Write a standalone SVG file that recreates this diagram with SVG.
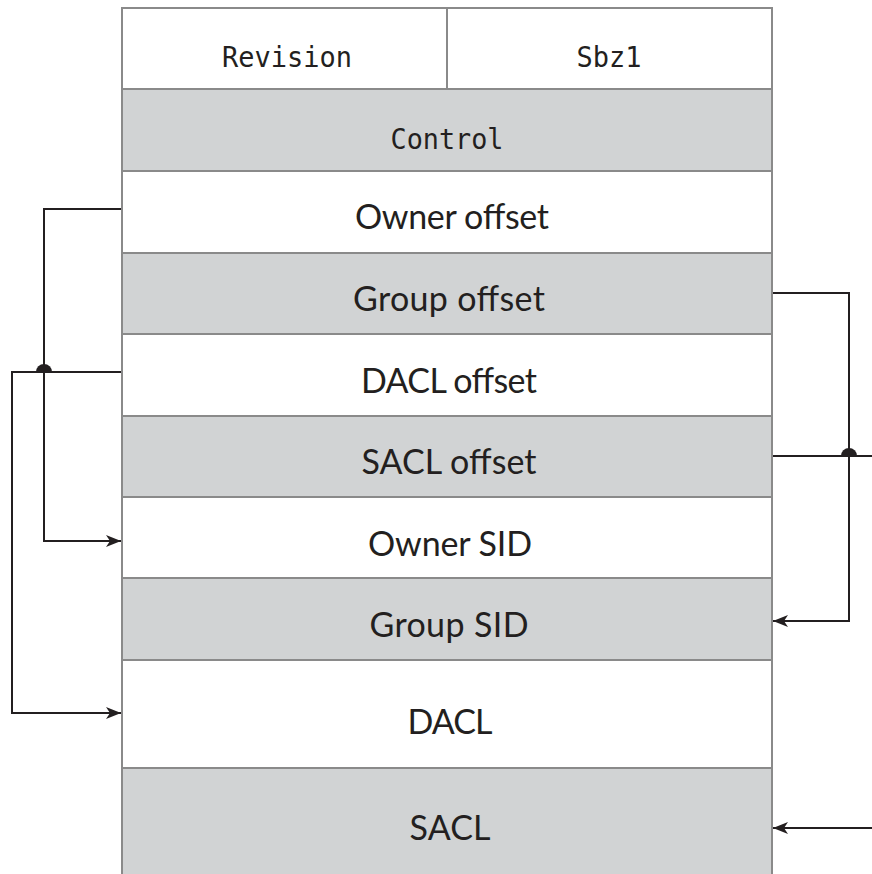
<svg xmlns="http://www.w3.org/2000/svg" width="872" height="874" viewBox="0 0 872 874">
  <style>
    .w { fill: #ffffff; stroke: #8a8a8a; stroke-width: 2; }
    .g { fill: #d1d3d4; stroke: #8a8a8a; stroke-width: 2; }
    .mono { font-family: "DejaVu Sans Mono", "Liberation Mono", monospace; font-size: 29px; fill: #231f20; text-anchor: middle; }
    .sans { font-family: Lato, "Open Sans", "Liberation Sans", sans-serif; font-size: 34px; fill: #231f20; text-anchor: middle; }
    .conn { fill: none; stroke: #231f20; stroke-width: 2; }
    .dot { fill: #231f20; }
  </style>
  <defs>
    <marker id="arrow" markerUnits="userSpaceOnUse" markerWidth="16" markerHeight="14" viewBox="0 0 16 12" refX="15" refY="6" orient="auto">
      <path d="M0,0 L15,6 L0,12 L4,6 z" fill="#231f20"/>
    </marker>
  </defs>
  <rect width="872" height="874" fill="#ffffff"/>

  <g id="revision">
    <rect class="w" x="122" y="8" width="325" height="81"/>
    <text class="mono" x="287" y="67" textLength="130" lengthAdjust="spacingAndGlyphs">Revision</text>
  </g>
  <g id="sbz1">
    <rect class="w" x="447" y="8" width="325" height="81"/>
    <text class="mono" x="609" y="67" textLength="65" lengthAdjust="spacingAndGlyphs">Sbz1</text>
  </g>
  <g id="control">
    <rect class="g" x="122" y="89" width="650" height="82"/>
    <text class="mono" x="447" y="149" textLength="113" lengthAdjust="spacingAndGlyphs">Control</text>
  </g>
  <g id="owner-offset">
    <rect class="w" x="122" y="171" width="650" height="82"/>
    <text class="sans" x="452" y="229" textLength="194">Owner offset</text>
  </g>
  <g id="group-offset">
    <rect class="g" x="122" y="253" width="650" height="81"/>
    <text class="sans" x="449" y="311" textLength="192">Group offset</text>
  </g>
  <g id="dacl-offset">
    <rect class="w" x="122" y="334" width="650" height="82"/>
    <text class="sans" x="449" y="393" textLength="176">DACL offset</text>
  </g>
  <g id="sacl-offset">
    <rect class="g" x="122" y="416" width="650" height="81"/>
    <text class="sans" x="449" y="474" textLength="175">SACL offset</text>
  </g>
  <g id="owner-sid">
    <rect class="w" x="122" y="497" width="650" height="81"/>
    <text class="sans" x="450" y="556" textLength="164">Owner SID</text>
  </g>
  <g id="group-sid">
    <rect class="g" x="122" y="578" width="650" height="82"/>
    <text class="sans" x="449" y="637" textLength="159">Group SID</text>
  </g>
  <g id="dacl">
    <rect class="w" x="122" y="660" width="650" height="108"/>
    <text class="sans" x="450" y="734" textLength="85">DACL</text>
  </g>
  <g id="sacl">
    <rect class="g" x="122" y="768" width="650" height="120"/>
    <text class="sans" x="450" y="840" textLength="81">SACL</text>
  </g>

  <g id="connectors">
    <polyline class="conn" points="121,209 44,209 44,541 121,541" marker-end="url(#arrow)"/>
    <polyline class="conn" points="121,372 12,372 12,713 121,713" marker-end="url(#arrow)"/>
    <path class="dot" d="M36,372 A8,8 0 0 1 52,372 z"/>
    <polyline class="conn" points="773,293 849,293 849,621 773,621" marker-end="url(#arrow)"/>
    <line class="conn" x1="773" y1="456" x2="872" y2="456"/>
    <path class="dot" d="M841,456 A8,8 0 0 1 857,456 z"/>
    <line class="conn" x1="872" y1="828" x2="773" y2="828" marker-end="url(#arrow)"/>
  </g>
</svg>
